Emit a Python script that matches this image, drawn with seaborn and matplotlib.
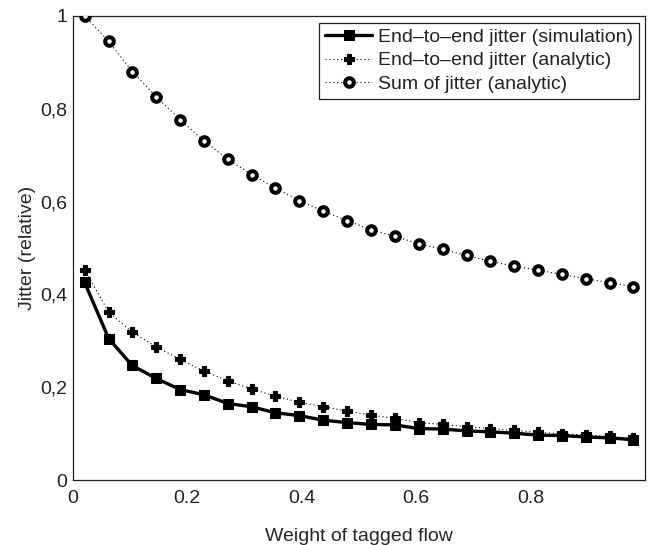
"""Jitter vs weight of tagged flow, redrawn with seaborn."""

import numpy as np
import pandas as pd
import seaborn as sns
import matplotlib.pyplot as plt
from matplotlib.ticker import FixedLocator, FixedFormatter

# 24 weights, evenly placed in (0, 1)
weight = [0.021, 0.063, 0.104, 0.146, 0.188, 0.229, 0.271, 0.313,
          0.354, 0.396, 0.438, 0.479, 0.521, 0.563, 0.604, 0.646,
          0.688, 0.729, 0.771, 0.813, 0.854, 0.896, 0.938, 0.979]

jitter_sim = [0.426, 0.305, 0.247, 0.219, 0.195, 0.184, 0.165, 0.158,
              0.145, 0.139, 0.129, 0.124, 0.120, 0.119, 0.111, 0.110,
              0.106, 0.104, 0.101, 0.097, 0.096, 0.093, 0.091, 0.087]

jitter_analytic = [0.453, 0.362, 0.319, 0.287, 0.260, 0.235, 0.214, 0.196,
                   0.181, 0.168, 0.158, 0.149, 0.140, 0.133, 0.124, 0.120,
                   0.115, 0.111, 0.107, 0.103, 0.100, 0.097, 0.094, 0.090]

jitter_sum = [1.000, 0.945, 0.880, 0.826, 0.776, 0.731, 0.691, 0.658,
              0.629, 0.602, 0.579, 0.559, 0.539, 0.525, 0.509, 0.497,
              0.484, 0.471, 0.461, 0.452, 0.443, 0.434, 0.425, 0.417]

x_ticks = [0, 0.2, 0.4, 0.6, 0.8]
x_labels = ["0", "0.2", "0.4", "0.6", "0.8"]
y_ticks = [0, 0.2, 0.4, 0.6, 0.8, 1.0]
y_labels = ["0", "0,2", "0,4", "0,6", "0,8", "1"]

sns.set_style("white")
plt.rcParams["font.family"] = ["Liberation Sans", "DejaVu Sans"]
plt.rcParams["text.color"] = "#222222"

FS = 14

df = pd.DataFrame({"weight": weight, "sim": jitter_sim,
                   "analytic": jitter_analytic, "sum": jitter_sum})

fig, ax = plt.subplots(figsize=(6.48, 5.45), dpi=100)
fig.subplots_adjust(left=0.112, right=0.996, top=0.971, bottom=0.119)

# sum of jitter: dotted line, white circles with heavy edge
sns.lineplot(data=df, x="weight", y="sum", ax=ax, color="black",
             linestyle=(0, (1, 2.5)), linewidth=0.8, marker="o",
             markersize=6.2, markerfacecolor="white", markeredgecolor="black",
             markeredgewidth=2.9, label="Sum of jitter (analytic)", zorder=3)

# analytic end-to-end: dotted line, filled plus markers
sns.lineplot(data=df, x="weight", y="analytic", ax=ax, color="black",
             linestyle=(0, (1, 2.5)), linewidth=0.8, marker="P",
             markersize=6.5, markeredgecolor="black", markeredgewidth=0.8,
             label="End\u2013to\u2013end jitter (analytic)", zorder=3)

# simulation: thick solid line, filled squares drawn on top
sns.lineplot(data=df, x="weight", y="sim", ax=ax, color="black",
             linewidth=2.4, marker="s", markersize=7.5,
             markeredgecolor="black", label="End\u2013to\u2013end jitter (simulation)",
             zorder=4)

ax.set_xlim(0, 1)
ax.set_ylim(0, 1)
ax.xaxis.set_major_locator(FixedLocator(x_ticks))
ax.xaxis.set_major_formatter(FixedFormatter(x_labels))
ax.yaxis.set_major_locator(FixedLocator(y_ticks))
ax.yaxis.set_major_formatter(FixedFormatter(y_labels))
ax.tick_params(direction="in", length=4, width=0.8, labelsize=FS,
               colors="#222222")
ax.tick_params(axis="x", pad=7)
ax.tick_params(axis="y", pad=4)
for side in ax.spines.values():
    side.set_visible(True)
    side.set_color("#222222")
    side.set_linewidth(0.9)

ax.set_xlabel("Weight of tagged flow", fontsize=FS, labelpad=15)
ax.set_ylabel("Jitter (relative)", fontsize=FS, labelpad=3)

# legend order as in the picture
handles, labels = ax.get_legend_handles_labels()
order = [2, 1, 0]
leg = ax.legend([handles[i] for i in order], [labels[i] for i in order],
                loc="upper right", fontsize=FS, frameon=True, fancybox=False,
                edgecolor="#222222", framealpha=1, handlelength=2.4,
                handletextpad=0.3, borderpad=0.3, labelspacing=0.3,
                borderaxespad=0.35)
leg.get_frame().set_linewidth(0.9)

fig.savefig("out.png", dpi=100)
